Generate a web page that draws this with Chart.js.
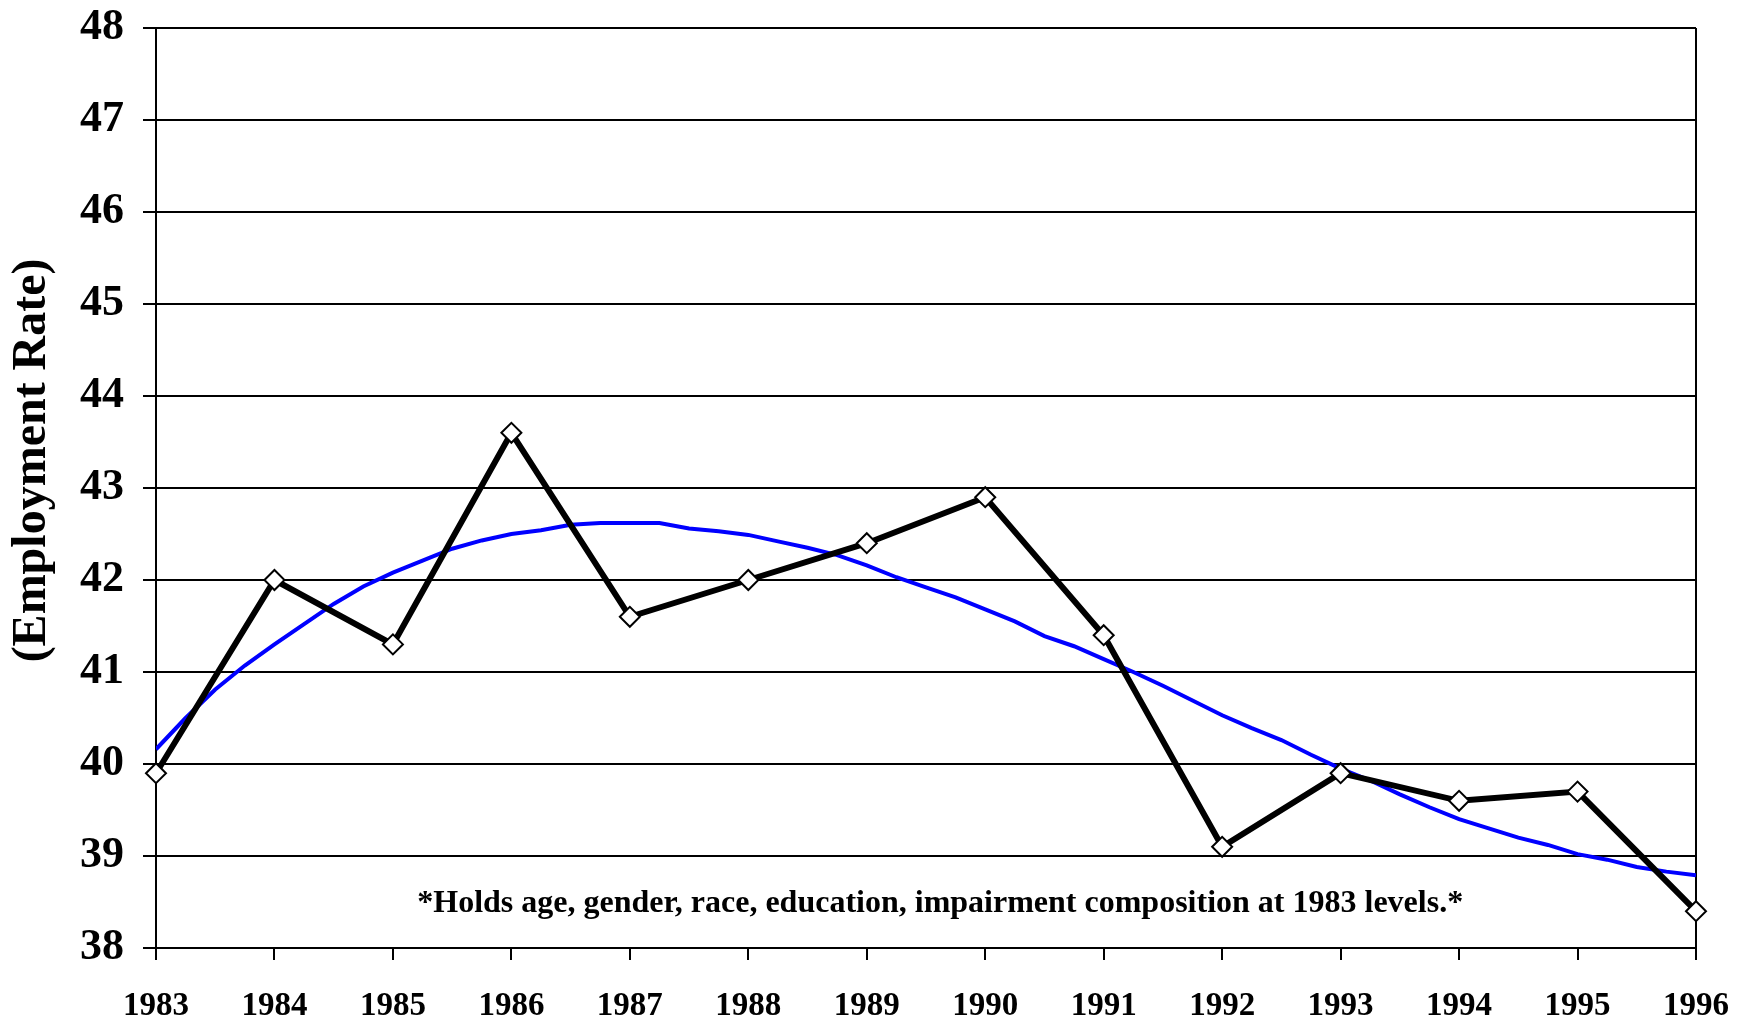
<!DOCTYPE html>
<html>
<head>
<meta charset="utf-8">
<script src="https://cdn.jsdelivr.net/npm/chart.js@4/dist/chart.umd.min.js"></script>
<style>
    body { margin: 0; background: #fff; }
    #wrap { width: 1745px; height: 1019px; }
</style>
</head>
<body>
<div id="wrap"><canvas id="myChart"></canvas></div>
<script>
// yearly employment rate (black line with diamonds)
const years = [1983, 1984, 1985, 1986, 1987, 1988, 1989, 1990, 1991, 1992, 1993, 1994, 1995, 1996];
const rates = [39.9, 42.0, 41.3, 43.6, 41.6, 42.0, 42.4, 42.9, 41.4, 39.1, 39.9, 39.6, 39.7, 38.4];

// blue trend line, every quarter year
const trendX = [
    1983.00, 1983.25, 1983.50, 1983.75, 1984.00, 1984.25, 1984.50, 1984.75,
    1985.00, 1985.25, 1985.50, 1985.75, 1986.00, 1986.25, 1986.50, 1986.75,
    1987.00, 1987.25, 1987.50, 1987.75, 1988.00, 1988.25, 1988.50, 1988.75,
    1989.00, 1989.25, 1989.50, 1989.75, 1990.00, 1990.25, 1990.50, 1990.75,
    1991.00, 1991.25, 1991.50, 1991.75, 1992.00, 1992.25, 1992.50, 1992.75,
    1993.00, 1993.25, 1993.50, 1993.75, 1994.00, 1994.25, 1994.50, 1994.75,
    1995.00, 1995.25, 1995.50, 1995.75, 1996.00
];
const trendY = [
    40.16, 40.50, 40.81, 41.07, 41.30, 41.52, 41.74, 41.93,
    42.08, 42.21, 42.34, 42.43, 42.50, 42.54, 42.60, 42.62,
    42.62, 42.62, 42.56, 42.53, 42.49, 42.42, 42.35, 42.27,
    42.16, 42.03, 41.92, 41.81, 41.68, 41.55, 41.39, 41.28,
    41.14, 41.00, 40.85, 40.69, 40.53, 40.39, 40.26, 40.10,
    39.95, 39.82, 39.67, 39.53, 39.40, 39.30, 39.20, 39.12,
    39.02, 38.96, 38.88, 38.83, 38.79
];

const yTicks = [38, 39, 40, 41, 42, 43, 44, 45, 46, 47, 48];
const yTitle = "(Employment Rate)";
const yTitleAt = 43.3; // the title sits a little above the middle of the axis
const note = "*Holds age, gender, race, education, impairment composition at 1983 levels.*";
const notePos = { x: 1989.62, y: 38.48 };

const serif = "'Liberation Serif', 'Times New Roman', serif";

// footnote inside the plot + rotated y title
const textPlugin = {
    id: "texts",
    afterDraw(chart) {
        const { ctx, scales } = chart;
        ctx.save();
        ctx.fillStyle = "#000";
        ctx.textAlign = "center";
        ctx.textBaseline = "middle";
        ctx.font = `bold 32px ${serif}`;
        ctx.fillText(note, scales.x.getPixelForValue(notePos.x), scales.y.getPixelForValue(notePos.y));

        ctx.font = `bold 48px ${serif}`;
        ctx.translate(33, scales.y.getPixelForValue(yTitleAt));
        ctx.rotate(-Math.PI / 2);
        ctx.fillText(yTitle, 0, 0);
        ctx.restore();
    },
};

const renderChart = () => {
    const ctx = document.getElementById("myChart").getContext("2d");
    const lastYear = years[years.length - 1];

    new Chart(ctx, {
        type: "line",
        data: {
            datasets: [{
                label: "Employment rate",
                data: years.map((yr, i) => ({ x: yr, y: rates[i] })),
                borderColor: "#000",
                borderWidth: 6,
                pointStyle: "rectRot",
                pointRadius: 10,
                pointBorderWidth: 2,
                pointBackgroundColor: "#fff",
                pointBorderColor: "#000",
                tension: 0,
                clip: false,
            }, {
                label: "Trend",
                data: trendX.map((x, i) => ({ x: x, y: trendY[i] })),
                borderColor: "#0000FF",
                borderWidth: 4,
                pointRadius: 0,
                tension: 0,
            }],
        },
        options: {
            responsive: true,
            maintainAspectRatio: false,
            animation: false,
            layout: { padding: { top: 28, right: 49, left: 0, bottom: 0 } },
            plugins: {
                legend: { display: false },
                tooltip: { enabled: false },
            },
            scales: {
                x: {
                    type: "linear",
                    min: years[0],
                    max: lastYear,
                    afterBuildTicks: (scale) => {
                        scale.ticks = years.map((v) => ({ value: v }));
                    },
                    afterFit: (scale) => {
                        scale.height = 71;
                        scale.paddingLeft = 0;
                        scale.paddingRight = 0;
                    },
                    ticks: {
                        color: "#000",
                        font: { family: serif, size: 33, weight: "bold" },
                        padding: 27,
                        maxRotation: 0,
                        autoSkip: false,
                        callback: (v) => String(v),
                    },
                    grid: {
                        color: (c) => (c.tick && (c.tick.value === years[0] || c.tick.value === lastYear) ? "#000" : "transparent"),
                        tickColor: "#000",
                        lineWidth: 2,
                        tickLength: 12,
                    },
                    border: { display: true, color: "#000", width: 2 },
                },
                y: {
                    min: yTicks[0],
                    max: yTicks[yTicks.length - 1],
                    afterBuildTicks: (scale) => {
                        scale.ticks = yTicks.map((v) => ({ value: v }));
                    },
                    afterFit: (scale) => {
                        scale.width = 156;
                        scale.paddingTop = 0;
                        scale.paddingBottom = 0;
                    },
                    ticks: {
                        color: "#000",
                        font: { family: serif, size: 44, weight: "bold" },
                        padding: 19,
                    },
                    grid: {
                        color: "#000",
                        lineWidth: 2,
                        tickLength: 13,
                    },
                    border: { display: true, color: "#000", width: 2 },
                },
            },
        },
        plugins: [textPlugin],
    });
};

renderChart();
</script>
</body>
</html>
